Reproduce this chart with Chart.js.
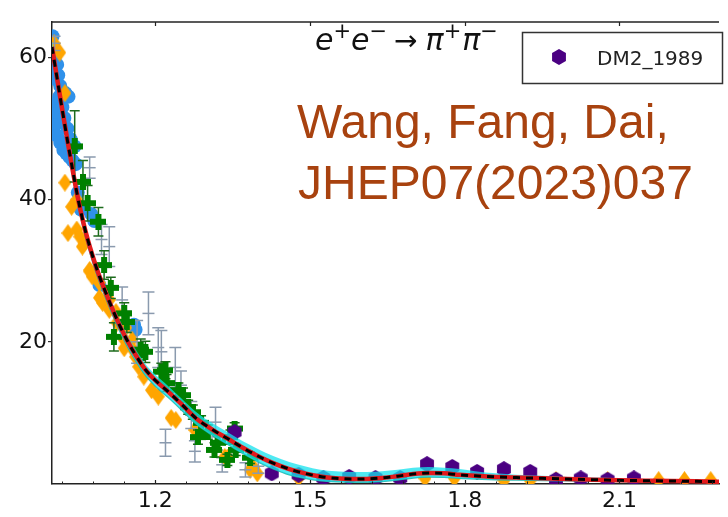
<!DOCTYPE html>
<html>
<head>
<meta charset="utf-8">
<script src="https://cdn.jsdelivr.net/npm/chart.js@4.4.0/dist/chart.umd.min.js"></script>
<style>
  html, body { margin: 0; padding: 0; background: #fff; }
  #wrap { position: relative; width: 728px; height: 517px; }
</style>
</head>
<body>
<div id="wrap"><canvas id="pipiChart" width="728" height="517"></canvas></div>
<script>
// fit result with its error band
const curveX = [1.00, 1.01, 1.02, 1.03, 1.04, 1.05, 1.06, 1.07, 1.08, 1.09, 1.10, 1.115, 1.13, 1.145, 1.16, 1.18,
  1.20, 1.225, 1.25, 1.28, 1.31, 1.34, 1.37, 1.40, 1.43, 1.46, 1.49, 1.52, 1.55, 1.58, 1.61, 1.64, 1.67, 1.70,
  1.73, 1.76, 1.79, 1.82, 1.86, 1.90, 1.95, 2.00, 2.05, 2.10, 2.15, 2.20, 2.25, 2.30];
const curveY = [61.5, 57.0, 52.6, 48.3, 44.2, 40.3, 37.0, 34.2, 31.8, 29.6, 27.7, 25.0, 22.5, 20.3, 18.4, 16.2,
  14.6, 13.0, 11.3, 9.2, 7.7, 6.4, 5.1, 3.9, 2.9, 2.1, 1.5, 1.05, 0.8, 0.7, 0.72, 0.85, 1.1, 1.4,
  1.55, 1.5, 1.3, 1.15, 1.0, 0.9, 0.8, 0.7, 0.6, 0.52, 0.47, 0.42, 0.37, 0.32];
const bandLow = [60.7, 56.2, 51.8, 47.5, 43.4, 39.5, 36.2, 33.4, 31.0, 28.8, 26.9, 24.2, 21.7, 19.5, 17.6, 15.4,
  13.8, 12.2, 10.5, 8.4, 6.9, 5.6, 4.3, 3.1, 2.1, 1.3, 0.8, 0.45, 0.3, 0.25, 0.25, 0.35, 0.55, 0.85,
  1.0, 0.95, 0.8, 0.7, 0.6, 0.55, 0.5, 0.45, 0.4, 0.35, 0.3, 0.28, 0.25, 0.22];
const bandHigh = [62.3, 57.8, 53.4, 49.1, 45.0, 41.1, 37.8, 35.0, 32.6, 30.4, 28.5, 25.8, 23.3, 21.1, 19.2, 17.0,
  15.4, 13.8, 12.1, 10.1, 8.6, 7.3, 6.0, 4.9, 3.9, 3.1, 2.5, 2.0, 1.8, 1.7, 1.7, 1.8, 2.0, 2.3,
  2.4, 2.3, 2.1, 1.8, 1.5, 1.3, 1.15, 1.0, 0.9, 0.8, 0.72, 0.65, 0.6, 0.55];

// measurements
const blueX = [1.001, 1.003, 1.005, 1.003, 1.006, 1.010, 1.012, 1.016, 1.014, 1.008, 1.004, 1.006, 1.010, 1.016,
  1.022, 1.028, 1.034, 1.040, 1.046, 1.036, 1.030, 1.024, 1.020, 1.026, 1.032, 1.044, 1.050, 1.056, 1.076,
  1.082, 1.092, 1.159, 1.162];
const blueY = [63.0, 61.5, 60.0, 58.0, 57.0, 59.0, 57.5, 56.0, 54.5, 53.5, 52.0, 50.5, 49.0, 48.0,
  47.0, 46.5, 46.0, 45.5, 45.0, 48.5, 50.0, 51.5, 53.0, 55.0, 54.5, 47.5, 41.0, 38.6, 38.0,
  37.0, 28.0, 22.4, 21.7];

const orangeX = [1.004, 1.015, 1.025, 1.025, 1.031, 1.038, 1.048, 1.048, 1.054, 1.059, 1.063, 1.073, 1.073, 1.078,
  1.092, 1.092, 1.098, 1.111, 1.111, 1.124, 1.126, 1.140, 1.143, 1.140, 1.153, 1.155, 1.162, 1.168, 1.168,
  1.178, 1.193, 1.206, 1.231, 1.240, 1.277, 1.335, 1.340, 1.384, 1.390, 1.398, 1.478, 1.723, 1.780, 1.876,
  1.927, 1.977, 2.077, 2.176, 2.226, 2.277];
const orangeY = [62.0, 60.7, 55.0, 42.4, 35.3, 39.0, 40.0, 35.8, 34.8, 33.4, 33.9, 30.1, 29.9, 29.2,
  28.3, 26.2, 25.5, 25.9, 24.5, 24.2, 22.7, 20.3, 22.0, 19.1, 19.3, 20.3, 17.9, 18.4, 16.5,
  15.1, 13.2, 12.3, 9.3, 9.0, 7.6, 3.8, 3.7, 2.0, 2.4, 1.5, 0.85, 0.8, 0.8, 0.5,
  0.5, 0.55, 0.55, 0.55, 0.55, 0.55];

const greenX = [1.044, 1.060, 1.069, 1.090, 1.101, 1.114, 1.120, 1.140, 1.145, 1.172, 1.181, 1.212, 1.220, 1.222,
  1.245, 1.254, 1.264, 1.273, 1.283, 1.289, 1.302, 1.315, 1.321, 1.340, 1.346, 1.354, 1.356, 1.384];
const greenY = [47.5, 42.5, 39.5, 36.9, 30.8, 27.6, 20.7, 24.0, 22.8, 18.9, 18.6, 15.8, 16.0, 14.2,
  13.2, 12.5, 10.8, 10.1, 6.6, 8.6, 7.3, 4.8, 5.8, 3.4, 6.6, 7.8, 4.8, 3.7];
const greenErr = [5.0, 3.0, 2.5, 2.0, 2.0, 1.5, 2.0, 1.5, 1.5, 1.5, 1.5, 1.2, 1.2, 1.2,
  1.0, 1.0, 1.0, 1.0, 1.0, 1.0, 1.0, 1.0, 1.0, 0.8, 1.0, 0.8, 0.8, 0.8];

const grayX = [1.005, 1.073, 1.096, 1.111, 1.136, 1.165, 1.187, 1.206, 1.212, 1.239, 1.250, 1.220, 1.270, 1.277,
  1.317, 1.330, 1.375, 1.400];
const grayY = [62.0, 44.5, 34.4, 33.4, 25.9, 20.0, 24.0, 19.2, 18.6, 16.4, 13.9, 5.8, 9.7, 4.6,
  8.7, 2.7, 2.0, 2.5];
const grayErr = [1.0, 1.5, 2.1, 2.8, 1.8, 3.0, 3.0, 2.8, 3.0, 2.8, 2.0, 1.9, 1.9, 1.5,
  2.1, 1.0, 1.0, 1.0];

const dm2X = [1.354, 1.426, 1.478, 1.526, 1.576, 1.627, 1.675, 1.727, 1.776, 1.824, 1.876, 1.927, 1.977, 2.025,
  2.077, 2.128];
const dm2Y = [7.3, 1.5, 1.3, 0.85, 1.0, 0.85, 0.85, 2.8, 2.4, 1.7, 2.1, 1.7, 0.6, 0.8,
  0.6, 0.8];

const xTicks = [1.2, 1.5, 1.8, 2.1];
const yTicks = [20, 40, 60];

const pts = (xs, ys) => xs.map((x, i) => ({ x: x, y: ys[i] }));

// small canvases used as point styles
function marker(w, h, draw) {
  const c = document.createElement("canvas");
  c.width = w;
  c.height = h;
  draw(c.getContext("2d"));
  return c;
}
const hexMarker = marker(16, 16, function (g) {
  g.fillStyle = "#4b0082";
  g.beginPath();
  for (let k = 0; k < 6; k++) {
    const a = Math.PI / 2 + (k * Math.PI) / 3;
    g.lineTo(8 + 8 * Math.cos(a), 8 - 8 * Math.sin(a));
  }
  g.closePath();
  g.fill();
});
const plusMarker = marker(16, 16, function (g) {
  g.fillStyle = "#008000";
  g.fillRect(5, 0, 6, 16);
  g.fillRect(0, 5, 16, 6);
});
const diamondMarker = marker(13, 18, function (g) {
  g.fillStyle = "#ffa500";
  g.beginPath();
  g.moveTo(6.5, 0);
  g.lineTo(13, 9);
  g.lineTo(6.5, 18);
  g.lineTo(0, 9);
  g.closePath();
  g.fill();
});

// vertical error bars, drawn just before the dataset's markers
const errorBars = {
  id: "errorBars",
  beforeDatasetDraw(chart, args) {
    const ds = chart.data.datasets[args.index];
    if (!ds.yErr) return;
    const ctx = chart.ctx;
    const xs = chart.scales.x, ys = chart.scales.y;
    const area = chart.chartArea;
    ctx.save();
    ctx.beginPath();
    ctx.rect(area.left, area.top, area.right - area.left, area.bottom - area.top);
    ctx.clip();
    ctx.strokeStyle = ds.errColor;
    ctx.lineWidth = 1.5;
    ds.data.forEach(function (p, i) {
      const px = xs.getPixelForValue(p.x);
      const y1 = ys.getPixelForValue(p.y - ds.yErr[i]);
      const y2 = ys.getPixelForValue(p.y + ds.yErr[i]);
      ctx.beginPath();
      ctx.moveTo(px, y1);
      ctx.lineTo(px, y2);
      ctx.moveTo(px - ds.capSize, y1);
      ctx.lineTo(px + ds.capSize, y1);
      ctx.moveTo(px - ds.capSize, y2);
      ctx.lineTo(px + ds.capSize, y2);
      ctx.stroke();
    });
    ctx.restore();
  },
};

// top spine, inward ticks, title, legend and the citation
const frame = {
  id: "frame",
  afterDraw(chart) {
    const ctx = chart.ctx;
    const a = chart.chartArea;
    const xs = chart.scales.x;
    ctx.save();
    ctx.strokeStyle = "#222";
    ctx.lineWidth = 1.5;
    ctx.beginPath();
    ctx.moveTo(a.left, a.top);
    ctx.lineTo(a.right, a.top);
    ctx.stroke();
    ctx.lineWidth = 1.2;
    xTicks.forEach(function (v) {
      const px = Math.round(xs.getPixelForValue(v)) + 0.5;
      ctx.beginPath();
      ctx.moveTo(px, a.bottom);
      ctx.lineTo(px, a.bottom - 4);
      ctx.moveTo(px, a.top);
      ctx.lineTo(px, a.top + 4);
      ctx.stroke();
    });
    ctx.lineWidth = 1;
    for (let v = 1.02; v < 2.3; v += 0.06) {
      const px = Math.round(xs.getPixelForValue(v)) + 0.5;
      ctx.beginPath();
      ctx.moveTo(px, a.bottom);
      ctx.lineTo(px, a.bottom - 2.5);
      ctx.stroke();
    }

    // process label
    ctx.fillStyle = "#111";
    ctx.textBaseline = "alphabetic";
    let x = 315;
    const base = 50;
    const parts = [
      ["e", "italic 30px 'DejaVu Sans'", 0, 0],
      ["+", "21px 'DejaVu Sans'", -12, 0],
      ["e", "italic 30px 'DejaVu Sans'", 0, 0],
      ["\u2212", "21px 'DejaVu Sans'", -12, 7],
      ["\u2192", "28px 'DejaVu Sans'", 0, 8],
      ["\u03c0", "italic 30px 'DejaVu Sans'", 0, 0],
      ["+", "21px 'DejaVu Sans'", -12, 1],
      ["\u03c0", "italic 30px 'DejaVu Sans'", 0, 0],
      ["\u2212", "21px 'DejaVu Sans'", -12, 0],
    ];
    parts.forEach(function (p) {
      ctx.font = p[1];
      ctx.fillText(p[0], x, base + p[2]);
      x += ctx.measureText(p[0]).width + p[3];
    });

    // legend
    ctx.fillStyle = "#fff";
    ctx.fillRect(522, 32, 201, 52);
    ctx.strokeStyle = "#333";
    ctx.lineWidth = 1.5;
    ctx.strokeRect(522.5, 32.5, 200, 51);
    ctx.drawImage(hexMarker, 551, 49);
    ctx.fillStyle = "#222";
    ctx.font = "20px 'DejaVu Sans'";
    ctx.fillText("DM2_1989", 597, 65);

    ctx.fillStyle = "#a8420f";
    ctx.font = "48px 'Liberation Sans'";
    ctx.fillText("Wang, Fang, Dai,", 297, 138);
    ctx.fillText("JHEP07(2023)037", 298, 199);
    ctx.restore();
  },
};

const config = {
  type: "scatter",
  data: {
    datasets: [
      {
        label: "fit dashed",
        type: "line",
        data: pts(curveX, curveY),
        borderColor: "#000",
        borderWidth: 3,
        borderDash: [7, 6],
        pointRadius: 0,
        cubicInterpolationMode: "monotone",
        order: 0,
      },
      {
        label: "fit",
        type: "line",
        data: pts(curveX, curveY),
        borderColor: "#e31a1c",
        borderWidth: 4.5,
        pointRadius: 0,
        cubicInterpolationMode: "monotone",
        order: 1,
      },
      {
        label: "band low",
        type: "line",
        data: pts(curveX, bandLow),
        borderColor: "rgba(32,178,170,0.9)",
        borderWidth: 1.5,
        pointRadius: 0,
        cubicInterpolationMode: "monotone",
        order: 3,
      },
      {
        label: "band high",
        type: "line",
        data: pts(curveX, bandHigh),
        borderColor: "rgba(0,0,0,0)",
        borderWidth: 0,
        backgroundColor: "rgba(20,225,238,0.75)",
        fill: { target: 2 },
        pointRadius: 0,
        cubicInterpolationMode: "monotone",
        order: 2,
      },
      {
        label: "DM2_1989",
        data: pts(dm2X, dm2Y),
        pointStyle: hexMarker,
        pointRadius: 8,
        order: 4,
      },
      {
        label: "green",
        data: pts(greenX, greenY),
        pointStyle: plusMarker,
        pointRadius: 8,
        yErr: greenErr,
        errColor: "#1d6b1d",
        capSize: 5,
        order: 5,
      },
      {
        label: "gray",
        data: pts(grayX, grayY),
        pointStyle: "line",
        pointRadius: 6,
        pointBorderColor: "#8a9aae",
        pointBorderWidth: 1.5,
        yErr: grayErr,
        errColor: "#8a9aae",
        capSize: 6,
        order: 6,
      },
      {
        label: "orange",
        data: pts(orangeX, orangeY),
        pointStyle: diamondMarker,
        pointRadius: 8,
        order: 7,
      },
      {
        label: "blue",
        data: pts(blueX, blueY),
        pointStyle: "circle",
        pointRadius: 7,
        pointBackgroundColor: "#2f91ea",
        pointBorderWidth: 0,
        order: 8,
      },
    ],
  },
  options: {
    responsive: false,
    animation: false,
    events: [],
    layout: { padding: { top: 22, left: 0, right: 0, bottom: 0 } },
    plugins: { legend: { display: false }, tooltip: { enabled: false } },
    scales: {
      x: {
        type: "linear",
        min: 1.0,
        max: 2.293,
        afterFit: function (s) { s.height = 33; },
        afterBuildTicks: function (s) { s.ticks = xTicks.map((v) => ({ value: v })); },
        grid: { display: true, drawOnChartArea: false, drawTicks: false },
        border: { display: true, color: "#222", width: 1.5 },
        ticks: { color: "#111", font: { family: "DejaVu Sans", size: 22 }, padding: 4, maxRotation: 0 },
      },
      y: {
        min: 0,
        max: 65,
        afterFit: function (s) { s.width = 52; },
        afterBuildTicks: function (s) { s.ticks = yTicks.map((v) => ({ value: v })); },
        grid: { display: true, drawOnChartArea: false, drawTicks: true, tickLength: 4, color: "#333", lineWidth: 1.2 },
        border: { display: true, color: "#222", width: 1.5 },
        ticks: { color: "#111", font: { family: "DejaVu Sans", size: 22 }, padding: 1 },
      },
    },
  },
  plugins: [errorBars, frame],
};

const pipiChart = new Chart(document.getElementById("pipiChart"), config);
</script>
</body>
</html>
